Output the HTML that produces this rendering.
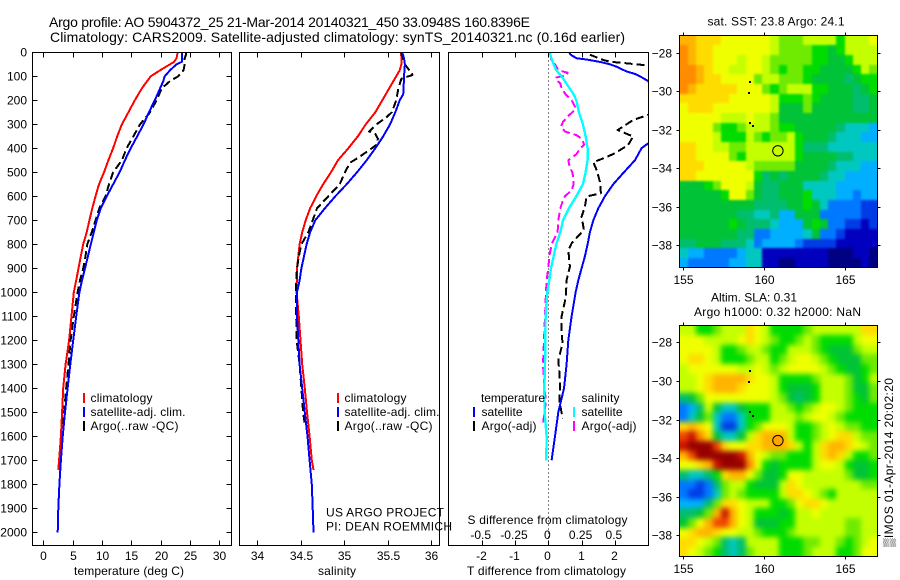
<!DOCTYPE html>
<html lang="en">
<head>
<meta charset="utf-8">
<title>Argo profile 5904372_25</title>
<style>
html,body{margin:0;padding:0;background:#fff;}
svg{display:block;font-family:"Liberation Sans",sans-serif;fill:#000;}
text{font-size:12px;}
.title{font-size:14px;}
</style>
</head>
<body>
<svg id="chart" width="900" height="580" viewBox="0 0 900 580" xmlns="http://www.w3.org/2000/svg">
<defs>
<clipPath id="clip-temp"><rect x="32.5" y="52.5" width="199" height="493"/></clipPath>
<clipPath id="clip-sal"><rect x="239.5" y="52.5" width="200" height="493"/></clipPath>
<clipPath id="clip-diff"><rect x="448.5" y="52.5" width="200" height="493"/></clipPath>
<clipPath id="clip-sst-map"><rect x="679.5" y="35.5" width="198" height="232"/></clipPath>
<clipPath id="clip-sla-map"><rect x="679.5" y="325.5" width="198" height="231"/></clipPath>
<filter id="blur-sst-map" filterUnits="userSpaceOnUse" x="640" y="0" width="260" height="300" color-interpolation-filters="sRGB"><feGaussianBlur stdDeviation="1.1"/></filter>
<filter id="blur-sla-map" filterUnits="userSpaceOnUse" x="640" y="290" width="260" height="290" color-interpolation-filters="sRGB"><feGaussianBlur stdDeviation="2.7"/></filter>
</defs>
<rect x="0" y="0" width="900" height="580" fill="#fff"/>
<text class="title" x="49" y="27" textLength="481">Argo profile: AO 5904372_25 21-Mar-2014 20140321_450 33.0948S 160.8396E</text>
<text class="title" x="50" y="42" textLength="575">Climatology: CARS2009. Satellite-adjusted climatology: synTS_20140321.nc (0.16d earlier)</text>
<g id="map-sst"></g>
<g id="map-sla"></g>
<g id="panel-temp"></g>
<g id="panel-sal"></g>
<g id="panel-diff"></g>
<g id="axes"></g>

<text x="74" y="575" textLength="110">temperature (deg C)</text>
<text x="318" y="575" textLength="38">salinity</text>
<text x="467" y="575" textLength="159">T difference from climatology</text>
<text x="467.5" y="524" textLength="160">S difference from climatology</text>

<g>
<rect x="83" y="393" width="2" height="10" fill="#f00"/>
<rect x="83" y="407" width="2" height="10" fill="#00f"/>
<rect x="83" y="421" width="2" height="10" fill="#000"/>
<text x="90.5" y="402" textLength="62">climatology</text>
<text x="90.5" y="416" textLength="95">satellite-adj. clim.</text>
<text x="90.5" y="430" textLength="88">Argo(..raw -QC)</text>
</g>
<g>
<rect x="337" y="393" width="2" height="10" fill="#f00"/>
<rect x="337" y="407" width="2" height="10" fill="#00f"/>
<rect x="337" y="421" width="2" height="10" fill="#000"/>
<text x="344.5" y="402" textLength="62">climatology</text>
<text x="344.5" y="416" textLength="95">satellite-adj. clim.</text>
<text x="344.5" y="430" textLength="88">Argo(..raw -QC)</text>
</g>
<g>
<text x="481" y="402" textLength="64">temperature</text>
<text x="581.5" y="402" textLength="38">salinity</text>
<rect x="473" y="407" width="2" height="10" fill="#00f"/>
<rect x="473" y="421" width="2" height="10" fill="#000"/>
<rect x="573" y="407" width="2" height="10" fill="#0ff"/>
<rect x="573" y="421" width="2" height="10" fill="#f0f"/>
<text x="481.5" y="416" textLength="41">satellite</text>
<text x="481.5" y="430" textLength="55">Argo(-adj)</text>
<text x="581.5" y="416" textLength="41">satellite</text>
<text x="581.5" y="430" textLength="55">Argo(-adj)</text>
</g>
<text x="326" y="516.5" textLength="118">US ARGO PROJECT</text>
<text x="326" y="530.5" textLength="126">PI: DEAN ROEMMICH</text>

<text x="707.5" y="25.5" textLength="137">sat. SST: 23.8 Argo: 24.1</text>
<text x="711" y="301.5" textLength="86">Altim. SLA: 0.31</text>
<text x="694" y="316" textLength="167">Argo h1000: 0.32 h2000: NaN</text>
<text transform="translate(893 547) rotate(-90)" x="0" y="0" textLength="169">▒IMOS 01-Apr-2014 20:02:20</text>
</svg>
<script>
// ---------- profile data (depth in m) ----------
const tempClimDepth = [0,25,40,50,75,100,150,200,250,300,350,400,450,500,550,600,650,700,750,800,850,900,950,1000,1100,1200,1300,1400,1500,1600,1700,1740];
const tempClimValues = [22.9,22.7,22.3,21.6,19.9,18.3,16.8,15.6,14.5,13.4,12.6,11.9,11.1,10.35,9.5,8.9,8.35,7.85,7.4,6.8,6.4,6.0,5.6,5.2,4.8,4.4,3.8,3.4,3.2,3.0,2.7,2.55];
const tempSatDepth = [0,25,40,50,75,100,120,150,200,250,300,350,400,450,500,550,600,650,700,750,800,850,900,950,1000,1100,1200,1300,1400,1500,1600,1700,1800,1900,2000];
const tempSatValues = [23.6,23.6,23.6,22.7,21.6,20.7,20.45,19.9,19.0,18.0,17.1,16.0,14.9,13.9,13.0,11.9,10.8,9.8,9.1,8.6,8.1,7.6,7.1,6.6,6.15,5.6,5.1,4.6,4.15,3.7,3.3,3.0,2.75,2.55,2.45];
const tempArgoDepth = [0,10,25,50,75,100,120,150,200,250,300,350,400,450,500,550,600,650,700,750,800,850,900,950,1000,1100,1200,1300,1400,1500,1550];
const tempArgoValues = [24.3,24.3,24.1,24.1,23.9,23.0,21.6,20.2,19.3,18.2,16.5,15.35,14.2,13.4,11.9,11.2,10.6,9.55,8.9,8.25,7.5,7.2,6.8,6.25,5.85,5.2,4.65,4.3,3.9,3.55,3.4];

const salClimDepth = [0,25,50,75,100,150,200,250,300,350,400,450,500,550,600,650,700,750,800,850,900,1000,1100,1200,1300,1400,1500,1600,1700,1740];
const salClimValues = [35.655,35.66,35.66,35.64,35.6,35.52,35.44,35.36,35.25,35.16,35.05,34.93,34.85,34.76,34.68,34.61,34.56,34.52,34.49,34.475,34.46,34.455,34.48,34.5,34.52,34.55,34.575,34.605,34.63,34.65];
const salSatDepth = [0,25,50,100,150,175,200,250,300,350,400,450,500,550,600,650,700,750,800,850,900,950,1000,1100,1200,1300,1400,1500,1600,1700,1800,1900,2000];
const salSatValues = [35.67,35.69,35.7,35.69,35.685,35.68,35.64,35.59,35.53,35.45,35.36,35.26,35.15,35.03,34.9,34.78,34.67,34.61,34.57,34.54,34.51,34.49,34.46,34.46,34.475,34.49,34.52,34.55,34.58,34.605,34.63,34.64,34.65];
const salArgoDepth = [0,50,70,85,95,100,110,150,200,250,270,300,330,340,360,385,400,420,440,460,500,550,600,650,700,750,800,850,900,950,1000,1100,1200,1300,1400,1500,1550];
const salArgoValues = [35.66,35.7,35.74,35.78,35.785,35.74,35.66,35.625,35.6,35.55,35.49,35.375,35.29,35.36,35.39,35.375,35.32,35.24,35.16,35.07,35.01,34.95,34.82,34.69,34.64,34.59,34.51,34.48,34.46,34.45,34.45,34.45,34.455,34.49,34.51,34.53,34.55];

const diffTSatDepth = [0,10,25,30,40,50,60,70,80,90,100,120,150,200,300,350,379,400,450,500,550,600,650,700,750,800,850,900,950,1000,1100,1200,1300,1400,1500,1600,1700];
const diffTSatValues = [0.63,0.67,0.85,1.15,1.55,1.85,2.05,2.2,2.35,2.6,2.75,3.0,3.1,3.4,3.7,3.5,3.0,2.8,2.6,2.27,1.95,1.7,1.5,1.35,1.25,1.18,1.1,1.0,0.9,0.82,0.7,0.6,0.55,0.47,0.3,0.2,0.1];
const diffTArgoDepth = [10,32,39,46,53,56,100,200,261,282,324,351,386,421,442,458,490,539,587,601,643,685,740,796,824,893,949,1018,1101,1171,1213,1282,1331,1393,1449,1525];
const diffTArgoValues = [1.25,1.65,1.85,2.35,2.85,3.0,3.6,3.4,3.0,2.55,2.08,2.55,2.4,2.0,1.65,1.35,1.45,1.55,1.58,1.15,1.1,1.0,1.07,0.7,0.6,0.65,0.55,0.53,0.4,0.4,0.43,0.3,0.33,0.35,0.33,0.43];
const diffSSatDepth = [0,50,75,100,150,175,200,250,300,350,400,450,500,550,600,650,700,750,800,850,900,950,1000,1100,1200,1300,1400,1500,1600,1700];
const diffSSatValues = [0.0075,0.04,0.06,0.1,0.16,0.19,0.21,0.23,0.26,0.28,0.295,0.295,0.28,0.26,0.21,0.155,0.11,0.09,0.06,0.04,0.02,0.0075,-0.0075,-0.02,-0.0225,-0.025,-0.03,-0.0275,-0.0125,-0.015];
const diffSArgoDepth = [0,40,50,75,85,95,105,115,130,150,175,200,225,240,265,290,310,330,345,360,385,400,425,450,475,500,530,550,575,600,625,650,700,750,800,850,900,950,1000,1100,1300,1400,1450,1550];
const diffSArgoValues = [0.0125,0.025,0.05,0.075,0.145,0.14,0.06,0.06,0.09,0.1,0.13,0.175,0.2,0.2,0.15,0.11,0.095,0.125,0.21,0.25,0.27,0.24,0.21,0.15,0.16,0.18,0.19,0.19,0.175,0.125,0.105,0.09,0.075,0.07,0.025,0.0075,0,-0.0125,-0.0175,-0.025,-0.04,-0.03,-0.0175,-0.04];

// ---------- tick values ----------
const depthTicks = [0,100,200,300,400,500,600,700,800,900,1000,1100,1200,1300,1400,1500,1600,1700,1800,1900,2000];
const tempTicks = [0,5,10,15,20,25,30];
const salTicks = [34,34.5,35,35.5,36];
const diffTTicks = [-2,-1,0,1,2];
const diffSTicks = [-0.5,-0.25,0,0.25,0.5];
const diffSTickLabels = ['-0.5','-0.25','0','0.25','0.5'];
const lonTicks = [155,160,165];
const latTicks = [-28,-30,-32,-34,-36,-38];

// ---------- map data: colour-level per 0.5 degree cell, north to south ----------
const sstLevels = [
[13,13,12,12,12,11,11,11,11,11,11,10,9,9,9,10,10,10,10,8,10,10,10,11],
[14,13,12,12,11,11,11,11,11,11,11,10,9,9,9,9,8,8,7,8,10,10,10,10],
[14,13,12,12,11,11,11,10,11,11,10,9,9,9,9,9,8,8,7,7,8,10,10,10],
[14,14,13,12,11,11,10,10,11,11,10,9,8,9,9,8,8,7,7,7,7,8,10,9],
[14,14,13,12,12,11,11,11,11,9,10,10,9,9,9,8,7,7,7,7,6,7,8,8],
[14,13,12,12,12,12,12,11,11,11,9,8,9,10,10,10,8,8,7,7,7,6,7,8],
[12,12,12,12,12,12,11,11,11,11,11,10,8,8,8,9,8,7,7,7,7,6,6,7],
[11,12,12,12,11,11,11,11,11,11,11,10,7,7,7,9,7,7,7,7,7,6,6,7],
[11,11,11,11,11,10,10,10,11,10,10,9,7,7,7,7,7,7,7,7,7,7,7,7],
[11,11,11,11,9,8,8,9,10,10,10,9,8,8,7,7,7,7,7,6,5,5,5,4],
[11,11,11,11,10,8,8,8,10,9,8,9,9,10,8,7,7,7,6,5,5,5,4,4],
[12,12,11,11,10,10,9,9,10,10,10,10,10,10,8,6,6,6,5,5,5,5,5,5],
[12,12,11,11,11,11,9,8,10,10,10,10,10,10,8,7,7,7,7,6,6,5,5,5],
[12,12,12,11,11,11,11,11,10,9,9,9,9,9,7,7,7,7,6,5,5,5,4,4],
[12,12,11,11,11,11,11,11,11,8,6,7,6,7,7,7,7,6,5,5,4,4,4,4],
[7,7,7,8,9,11,11,11,10,7,6,6,7,7,7,5,5,5,5,4,4,4,4,4],
[7,7,7,7,7,8,11,11,9,7,6,6,7,7,7,8,5,5,5,4,4,3,4,4],
[7,7,7,7,7,7,7,7,7,6,6,6,6,7,7,8,7,5,3,3,3,3,2,2],
[7,7,7,7,7,7,7,6,6,5,5,6,4,4,7,7,7,3,3,3,3,3,2,2],
[7,7,7,7,7,7,8,7,6,6,6,5,4,4,4,7,8,7,3,3,2,2,1,2],
[7,7,7,7,7,7,7,6,6,3,3,4,4,4,4,5,7,3,3,2,1,1,1,1],
[6,6,7,7,7,6,6,6,5,3,4,4,4,4,3,2,2,2,2,1,1,1,1,1],
[5,4,4,3,3,3,3,4,5,5,1,1,1,1,1,1,1,1,0,0,0,1,1,0],
[4,3,3,3,3,3,4,4,5,5,1,1,0,0,1,1,1,1,0,0,0,0,1,0]
];
const slaLevels = [
[10,10,8,8,9,10,10,10,12,11,10,8,8,8,8,9,10,10,10,10,10,10,12,12],
[11,11,11,10,10,10,10,11,12,11,10,9,8,8,9,10,9,8,8,8,8,10,11,11],
[11,11,11,11,10,8,8,9,10,10,9,8,8,10,10,10,9,8,7,7,7,9,10,10],
[11,12,12,11,10,8,8,8,9,10,10,8,9,10,11,11,10,9,8,7,7,7,9,9],
[10,11,11,11,11,11,11,10,10,11,10,9,10,11,11,11,11,10,9,8,7,7,8,9],
[10,10,11,12,13,13,13,13,12,11,11,10,8,8,8,8,9,10,10,10,9,7,8,10],
[10,10,11,12,13,13,13,12,11,11,11,10,8,7,7,7,8,10,10,10,9,7,7,9],
[6,7,9,11,11,11,11,11,11,11,11,10,9,7,6,7,8,10,10,10,9,8,7,9],
[3,4,6,10,7,5,5,7,8,8,8,10,10,9,8,9,10,11,11,10,9,8,8,8],
[3,5,7,9,5,3,3,5,8,8,8,10,10,10,9,10,11,11,10,9,8,8,8,8],
[12,13,12,11,5,2,2,5,8,9,11,11,11,10,8,8,9,10,11,10,9,9,8,8],
[15,16,14,12,7,5,5,7,10,12,13,13,13,10,8,8,9,10,11,12,12,10,9,9],
[16,17,17,17,15,12,11,11,12,12,13,13,13,12,10,8,10,12,13,13,12,11,10,9],
[13,15,17,17,17,17,17,16,13,11,10,9,9,8,8,8,10,12,13,12,10,8,8,9],
[11,11,12,13,16,17,17,17,14,11,8,7,8,8,8,8,10,11,11,10,8,7,7,8],
[6,5,5,6,8,12,13,13,11,9,7,7,8,11,11,10,10,10,10,10,9,7,7,8],
[3,3,2,3,6,9,10,10,8,7,7,7,10,12,11,10,10,10,10,10,10,10,9,9],
[3,2,2,3,5,9,10,9,8,8,8,8,10,12,12,11,10,9,8,10,10,10,10,10],
[4,4,4,6,9,12,12,11,10,10,10,8,8,9,11,12,12,11,10,10,10,10,10,10],
[6,6,7,9,13,16,13,11,10,8,8,8,7,8,10,10,11,10,10,10,10,10,10,10],
[7,9,11,13,15,15,13,11,10,7,7,7,8,8,10,10,10,10,10,10,9,9,10,10],
[11,12,13,13,12,11,11,10,10,9,8,8,8,9,10,10,10,10,10,10,9,9,10,10],
[12,12,11,10,9,6,5,6,10,10,10,10,8,8,8,9,9,10,10,9,8,9,10,11],
[12,11,10,9,8,6,5,6,9,10,10,10,8,8,8,9,10,10,10,8,8,9,11,11]
];
const floatLon = [160.84];
const floatLat = [-33.09];
const islandLon = [159.04,159.02,159.06,159.24];
const islandLat = [-29.45,-30.02,-31.58,-31.75];

// ---------- colour scale ----------
const levelColors = ['#000082','#0000be','#003ce6','#0078ff','#00afff','#00c8c0','#00be6e','#00c337','#00dc00','#6eeb00','#c3ff00','#f0ff00','#ffdc00','#ffb400','#ff8c00','#f04600','#c81400','#960000'];

// ---------- axis functions ----------
const yDepth = d => 52.3 + 0.24 * d;
const xTemp = t => 43.3 + 5.867 * t;
const xSal = s => 257 + 87 * (s - 34);
const xDiffT = v => 548.3 + 33.3 * v;
const xDiffS = v => 548.3 + 133.2 * v;
const xLon = lon => 683.3 + 16.2 * (lon - 155);
const yLatTop = lat => 52.7 + 19.27 * (-28 - lat);
const yLatBottom = lat => 342.3 + 19.3 * (-28 - lat);

const NS = 'http://www.w3.org/2000/svg';
function mk(tag, attrs, parent) {
  const el = document.createElementNS(NS, tag);
  for (const k in attrs) el.setAttribute(k, attrs[k]);
  parent.appendChild(el);
  return el;
}
function label(parent, str, x, y, anchor, name) {
  const el = mk('text', {x: x, y: y, 'text-anchor': anchor}, parent);
  el.textContent = str;
  
  
  return el;
}
function tickLine(parent, x1, y1, x2, y2, name) {
  const el = mk('line', {x1: x1, y1: y1, x2: x2, y2: y2, stroke: '#000', 'stroke-width': 1, 'shape-rendering': 'crispEdges'}, parent);
  
  
  return el;
}
function frame(parent, x, y, w, h, name) {
  const el = mk('rect', {x: x, y: y, width: w, height: h, fill: 'none', stroke: '#000', 'stroke-width': 1, 'shape-rendering': 'crispEdges'}, parent);
  
  
  return el;
}
function profile(parent, clip, depths, values, xFn, color, width, dash, name) {
  const pts = depths.map((d, i) => xFn(values[i]).toFixed(1) + ' ' + yDepth(d).toFixed(1));
  const el = mk('path', {d: 'M' + pts.join('L'), fill: 'none', stroke: color, 'stroke-width': width, 'clip-path': 'url(#' + clip + ')', 'shape-rendering': 'crispEdges', 'stroke-linejoin': 'round'}, parent);
  if (dash) el.setAttribute('stroke-dasharray', dash);
  
  
  return el;
}

// ---------- profile panels ----------
const gT = document.getElementById('panel-temp');
const gS = document.getElementById('panel-sal');
const gD = document.getElementById('panel-diff');
const gA = document.getElementById('axes');

profile(gT, 'clip-temp', tempClimDepth, tempClimValues, xTemp, '#f00', 2, null, 'temperature-climatology-line');
profile(gT, 'clip-temp', tempArgoDepth, tempArgoValues, xTemp, '#000', 2, '8 4', 'temperature-argo-line');
profile(gT, 'clip-temp', tempSatDepth, tempSatValues, xTemp, '#00f', 2, null, 'temperature-satellite-line');

profile(gS, 'clip-sal', salClimDepth, salClimValues, xSal, '#f00', 2, null, 'salinity-climatology-line');
profile(gS, 'clip-sal', salArgoDepth, salArgoValues, xSal, '#000', 2, '8 4', 'salinity-argo-line');
profile(gS, 'clip-sal', salSatDepth, salSatValues, xSal, '#00f', 2, null, 'salinity-satellite-line');

const zeroLine = mk('line', {x1: xDiffT(0), x2: xDiffT(0), y1: 52.5, y2: 545.5, stroke: '#000', 'stroke-width': 1, 'stroke-dasharray': '1 3', 'shape-rendering': 'crispEdges'}, gD);


profile(gD, 'clip-diff', diffTArgoDepth, diffTArgoValues, xDiffT, '#000', 2, '8 4', 'difference-t-argo-line');
profile(gD, 'clip-diff', diffTSatDepth, diffTSatValues, xDiffT, '#00f', 2, null, 'difference-t-satellite-line');
profile(gD, 'clip-diff', diffSArgoDepth, diffSArgoValues, xDiffS, '#f0f', 2, '8 4', 'difference-s-argo-line');
profile(gD, 'clip-diff', diffSSatDepth, diffSSatValues, xDiffS, '#0ff', 2.4, null, 'difference-s-satellite-line');

frame(gA, 32.5, 52.5, 199, 493, 'temperature-plot-frame');
frame(gA, 239.5, 52.5, 200, 493, 'salinity-plot-frame');
frame(gA, 448.5, 52.5, 200, 493, 'difference-plot-frame');

depthTicks.forEach(d => {
  const y = Math.round(yDepth(d)) + 0.5;
  tickLine(gA, 32.5, y, 37.5, y, 'depth-tick-left');
  tickLine(gA, 226.5, y, 231.5, y, 'depth-tick-right');
  label(gA, String(d), 27, y + 4, 'end', 'depth-tick-label');
});
tempTicks.forEach(t => {
  const x = Math.round(xTemp(t)) + 0.5;
  tickLine(gA, x, 52.5, x, 57.5, 'temperature-tick-top');
  tickLine(gA, x, 540.5, x, 545.5, 'temperature-tick-bottom');
  label(gA, String(t), x, 560, 'middle', 'temperature-tick-label');
});
salTicks.forEach(s => {
  const x = Math.round(xSal(s)) + 0.5;
  tickLine(gA, x, 52.5, x, 57.5, 'salinity-tick-top');
  tickLine(gA, x, 540.5, x, 545.5, 'salinity-tick-bottom');
  label(gA, String(s), x, 560, 'middle', 'salinity-tick-label');
});
diffTTicks.forEach(v => {
  const x = Math.round(xDiffT(v)) + 0.5;
  tickLine(gA, x, 52.5, x, 57.5, 'difference-t-tick-top');
  tickLine(gA, x, 540.5, x, 545.5, 'difference-t-tick-bottom');
  label(gA, String(v), x - 1, 560, 'middle', 'difference-t-tick-label');
});
diffSTicks.forEach((v, i) => {
  label(gA, diffSTickLabels[i], xDiffS(v) - 1, 539, 'middle', 'difference-s-tick-label');
});

// ---------- maps ----------
const MAP_X0 = 679.5, MAP_X1 = 877.5, MAP_BLEED = 12;
function drawMap(parent, levels, y0, y1, yLat, name, clipId, blurId) {
  const rows = levels.length, cols = levels[0].length;
  const clipGroup = mk('g', {'clip-path': 'url(#' + clipId + ')'}, parent);
  
  
  const cellGroup = mk('g', {filter: 'url(#' + blurId + ')'}, clipGroup);
  
  
  levels.forEach((row, r) => {
    row.forEach((lvl, c) => {
      let x = Math.round(MAP_X0 + (MAP_X1 - MAP_X0) * c / cols);
      let xe = Math.round(MAP_X0 + (MAP_X1 - MAP_X0) * (c + 1) / cols);
      let y = Math.round(y0 + (y1 - y0) * r / rows);
      let ye = Math.round(y0 + (y1 - y0) * (r + 1) / rows);
      if (c === 0) x -= MAP_BLEED;
      if (c === cols - 1) xe += MAP_BLEED;
      if (r === 0) y -= MAP_BLEED;
      if (r === rows - 1) ye += MAP_BLEED;
      const el = mk('rect', {x: x, y: y, width: xe - x, height: ye - y, fill: levelColors[Math.max(0, Math.min(levelColors.length - 1, lvl))], 'shape-rendering': 'crispEdges'}, cellGroup);
      
      
    });
  });
  islandLon.forEach((lon, i) => {
    const el = mk('rect', {x: Math.round(xLon(lon)), y: Math.round(yLat(islandLat[i])), width: 2, height: 2, fill: '#000', 'shape-rendering': 'crispEdges'}, parent);
    
    
  });
  frame(parent, MAP_X0, y0, MAP_X1 - MAP_X0, y1 - y0, name + '-frame');
  lonTicks.forEach(lon => {
    const x = Math.round(xLon(lon)) + 0.5;
    tickLine(parent, x, y0 - 3, x, y0, 'longitude-tick-top');
    tickLine(parent, x, y1, x, y1 + 3, 'longitude-tick-bottom');
    label(parent, String(lon), x, y1 + 16.5, 'middle', 'longitude-tick-label');
  });
  latTicks.forEach(lat => {
    const y = Math.round(yLat(lat)) + 0.5;
    tickLine(parent, MAP_X0 - 3, y, MAP_X0, y, 'latitude-tick-left');
    tickLine(parent, MAP_X1, y, MAP_X1 + 3, y, 'latitude-tick-right');
    label(parent, '\u2212' + Math.abs(lat), 672, y + 4, 'end', 'latitude-tick-label');
  });
}
const gSst = document.getElementById('map-sst');
const gSla = document.getElementById('map-sla');
drawMap(gSst, sstLevels, 35.5, 267.5, yLatTop, 'sst-map', 'clip-sst-map', 'blur-sst-map');
drawMap(gSla, slaLevels, 325.5, 556.5, yLatBottom, 'sla-map', 'clip-sla-map', 'blur-sla-map');

const floatA = mk('circle', {cx: xLon(floatLon[0]), cy: yLatTop(floatLat[0]), r: 5.2, fill: 'none', stroke: '#000', 'stroke-width': 1}, gSst);


const floatB = mk('circle', {cx: xLon(floatLon[0]), cy: yLatBottom(floatLat[0]), r: 5.2, fill: '#ffa500', stroke: '#000', 'stroke-width': 1}, gSla);


</script>
</body>
</html>
